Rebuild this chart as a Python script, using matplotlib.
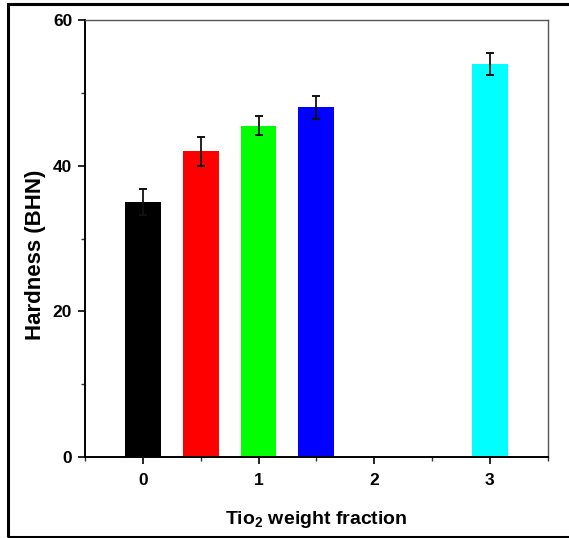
import matplotlib
matplotlib.use("Agg")
import matplotlib.pyplot as plt
from matplotlib.patches import Rectangle

plt.rcParams['font.family'] = ['Liberation Sans', 'DejaVu Sans']
plt.rcParams['mathtext.fontset'] = 'custom'
plt.rcParams['mathtext.bf'] = 'Liberation Sans:bold'
plt.rcParams['mathtext.rm'] = 'Liberation Sans:bold'

# Data
x_positions = [0, 0.5, 1, 1.5, 3]
hardness = [35, 42, 45.5, 48, 54]
errors = [1.8, 2.0, 1.3, 1.6, 1.5]
bar_colors = ['#000000', '#FF0000', '#00FF00', '#0000FF', '#00FFFF']
x_major = [0, 1, 2, 3]
x_minor = [-0.5, 0.5, 1.5, 2.5, 3.5]
y_major = [0, 20, 40, 60]
y_minor = [10, 30, 50]

fig = plt.figure(figsize=(5.69, 5.38), dpi=100)
ax = fig.add_axes([85/569, 1-457/538, (547.7-85)/569, (457-20)/538])

ax.bar(x_positions, hardness, width=0.31, color=bar_colors, zorder=2)
ax.errorbar(x_positions, hardness, yerr=errors, fmt='none', ecolor='#111111',
            elinewidth=1.3, capsize=2.6, capthick=1.4, zorder=3)

ax.set_xlim(-0.5, 3.5)
ax.set_ylim(0, 60)
ax.set_xticks(x_major)
ax.set_xticks(x_minor, minor=True)
ax.set_yticks(y_major)
ax.set_yticks(y_minor, minor=True)

for lbl in ax.get_xticklabels() + ax.get_yticklabels():
    lbl.set_fontweight('bold')
    lbl.set_fontsize(12.5)

ax.tick_params(which='major', direction='out', length=5.2, width=1.2, color='black', pad=4)
ax.tick_params(axis='x', which='major', pad=6)
ax.tick_params(which='minor', direction='out', length=3, width=1.0, color='#333333')

for s in ['left', 'bottom']:
    ax.spines[s].set_linewidth(1.4)
    ax.spines[s].set_color('black')
for s in ['top', 'right']:
    ax.spines[s].set_linewidth(1.0)
    ax.spines[s].set_color('#555555')

ax.set_xlabel(r'Tio$_{\mathbf{2}}$ weight fraction', fontsize=14, fontweight='bold')
ax.set_ylabel('Hardness (BHN)', fontsize=16, fontweight='bold')
ax.xaxis.set_label_coords(0.5, (457-509)/437)
ax.yaxis.set_label_coords((46-85)/462.7, (457-255)/437)

# outer frame
fig.patches.append(Rectangle((8/569, 1-536.5/538), 1.0, (536.5-4)/538, transform=fig.transFigure,
                             fill=False, edgecolor='black', linewidth=2.2))

fig.savefig('out.png', dpi=100)
